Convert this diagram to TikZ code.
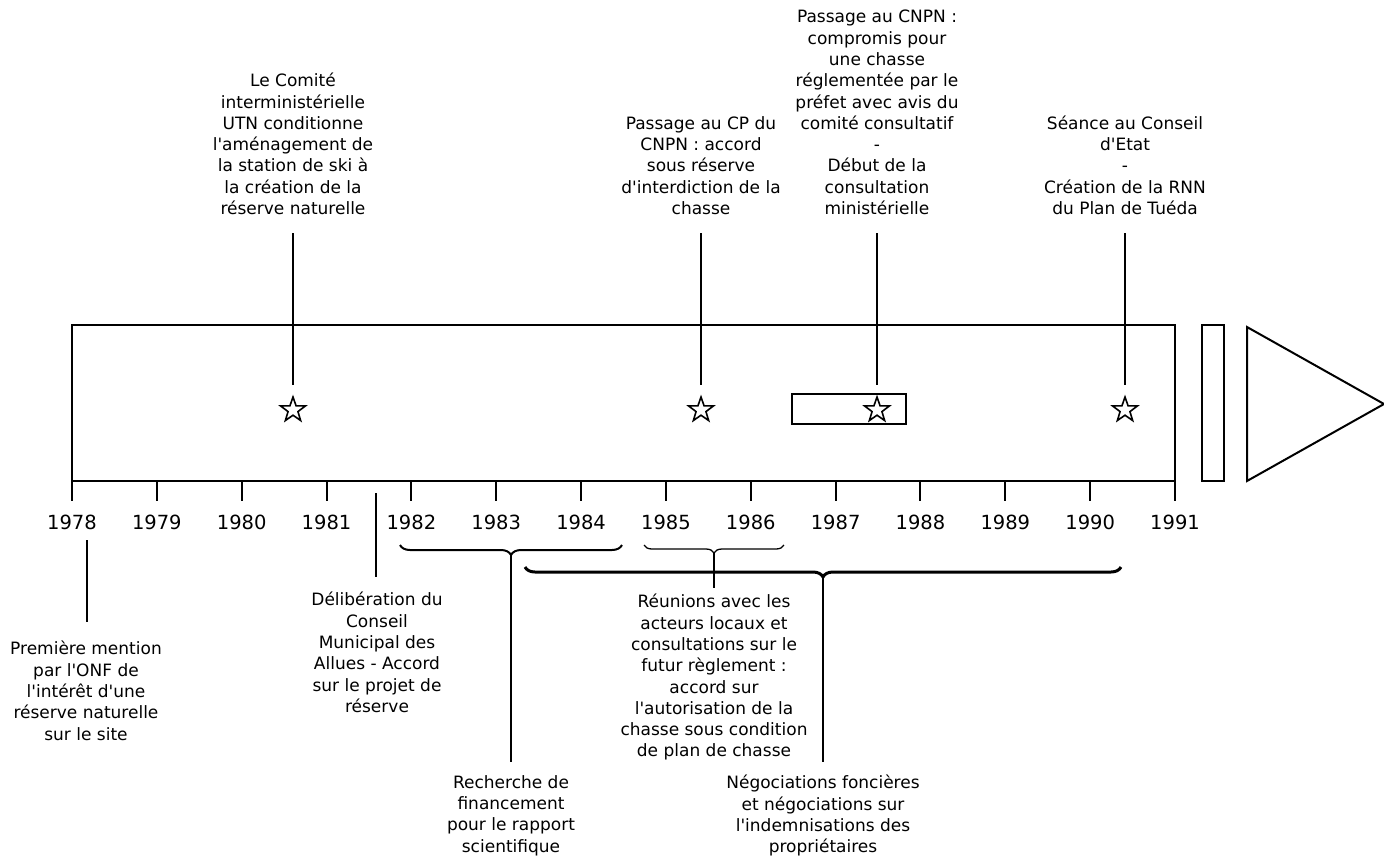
\documentclass[tikz,border=0pt]{standalone}
\usepackage{fontspec}
\setmainfont{DejaVu Sans}
\newfontfamily\lblfont{DejaVu Sans}
\usetikzlibrary{shapes.geometric,decorations.pathreplacing}
\begin{document}
\begin{tikzpicture}[x=1pt,y=-1pt,
  frame/.style={draw, line width=2pt},
  tickline/.style={line width=2pt},
  lbl/.style={align=center, inner sep=0pt, font=\lblfont\fontsize{17}{21.3}\selectfont},
  yr/.style={anchor=base, inner sep=0pt, font=\lblfont\fontsize{19.5}{23}\selectfont},
  evstar/.style={star, star points=5, star point ratio=2.5, minimum size=26pt, inner sep=0pt, draw, line width=1.6pt},
  conn/.style={line width=1.6pt},
  brc/.style={decorate, decoration={brace, mirror, amplitude=#1}}
]
\useasboundingbox (0,0) rectangle (1384,855);

% main bar
\draw[frame] (72,325) rectangle (1175,481);
\draw[frame] (792,394) rectangle (906,424);
\draw[frame] (1202,325) rectangle (1224,481);
\draw[frame, line join=miter] (1247,327) -- (1384,404) -- (1247,481) -- cycle;

% years
\foreach \i in {0,...,13} {
  \pgfmathsetmacro{\xx}{72+84.846*\i}
  \pgfmathtruncatemacro{\yy}{1978+\i}
  \draw[tickline] (\xx,481) -- (\xx,501);
  \node[yr] (y\yy) at (\xx,529) {\yy};
}

% events above
\node[evstar] (s1) at (293,410) {};
\node[lbl, anchor=south] (t1) at (293,215) {Le Comité\\interministérielle\\UTN conditionne\\l'aménagement de\\la station de ski à\\la création de la\\réserve naturelle};
\draw[conn, shorten <=18pt, shorten >=10pt] (t1.south) -- (s1.north);

\node[evstar] (s2) at (701,410) {};
\node[lbl, anchor=south] (t2) at (701,215) {Passage au CP du\\CNPN : accord\\sous réserve\\d'interdiction de la\\chasse};
\draw[conn, shorten <=18pt, shorten >=10pt] (t2.south) -- (s2.north);

\node[evstar] (s3) at (877,410) {};
\node[lbl, anchor=south] (t3) at (877,215) {Passage au CNPN :\\compromis pour\\une chasse\\réglementée par le\\préfet avec avis du\\comité consultatif\\-\\Début de la\\consultation\\ministérielle};
\draw[conn, shorten <=18pt, shorten >=10pt] (t3.south) -- (s3.north);

\node[evstar] (s4) at (1125,410) {};
\node[lbl, anchor=south] (t4) at (1125,215) {Séance au Conseil\\d'Etat\\-\\Création de la RNN\\du Plan de Tuéda};
\draw[conn, shorten <=18pt, shorten >=10pt] (t4.south) -- (s4.north);

% events below
\coordinate (c1978) at (87,540);
\node[lbl, anchor=north] (p1) at (86,641) {Première mention\\par l'ONF de\\l'intérêt d'une\\réserve naturelle\\sur le site};
\draw[conn, shorten >=19pt] (c1978) -- (c1978 |- p1.north);

\coordinate (c1981) at (376,493);
\node[lbl, anchor=north] (p2) at (377,592) {Délibération du\\Conseil\\Municipal des\\Allues - Accord\\sur le projet de\\réserve};
\draw[conn, shorten >=15pt] (c1981) -- (c1981 |- p2.north);

% braces
\draw[brc=10pt, line width=2pt] (400,545) -- (622,545);
\coordinate (b1) at (511,555);
\draw[brc=8pt, line width=1.3pt] (644,545) -- (784,545);
\coordinate (b2) at (714,553);
\draw[brc=10pt, line width=3pt] (525,567) -- (1121,567);
\coordinate (b3) at (823,577);

\node[lbl, anchor=north] (p3) at (511,775) {Recherche de\\financement\\pour le rapport\\scientifique};
\draw[conn, shorten >=13pt] (b1) -- (p3.north);

\node[lbl, anchor=north] (p4) at (714,594) {Réunions avec les\\acteurs locaux et\\consultations sur le\\futur règlement :\\accord sur\\l'autorisation de la\\chasse sous condition\\de plan de chasse};
\draw[conn, shorten >=6pt] (b2) -- (p4.north);

\node[lbl, anchor=north] (p5) at (823,775) {Négociations foncières\\et négociations sur\\l'indemnisations des\\propriétaires};
\draw[conn, shorten >=13pt] (b3) -- (p5.north);
\end{tikzpicture}
\end{document}
